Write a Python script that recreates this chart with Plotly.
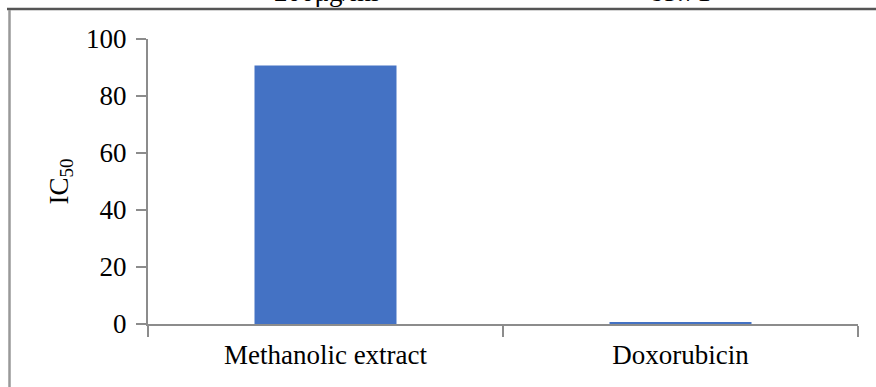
import plotly.graph_objects as go

categories = ["Methanolic extract", "Doxorubicin"]
ic50_values = [90.7, 0.7]
y_ticks = [0, 20, 40, 60, 80, 100]
header_texts = ["200μg/ml", "85.71"]

W, H = 876, 387
L, R, T, B = 148, 18, 39, 63
pw, ph = W - L - R, H - T - B

def px_x(x):
    return (x - L) / pw

def px_y(y):
    return (H - B - y) / ph

FONT = "Liberation Serif, Times New Roman, serif"
AX = "#8c8c8c"
FS = 27

fig = go.Figure()
fig.add_trace(go.Bar(x=categories, y=ic50_values, marker=dict(color="#4472C4", line=dict(width=0)),
                     width=0.4))

fig.update_layout(
    width=W, height=H,
    margin=dict(l=L, r=R, t=T, b=B, autoexpand=False),
    paper_bgcolor="white", plot_bgcolor="white",
    font=dict(family=FONT, size=FS, color="black"),
    showlegend=False,
    xaxis=dict(
        showline=True, linecolor=AX, linewidth=2,
        ticks="outside", tickson="boundaries", ticklen=11, tickcolor=AX, tickwidth=2,
        showgrid=False, tickfont=dict(size=FS, family=FONT), automargin=False,
        ticklabelstandoff=6,
    ),
    yaxis=dict(
        range=[0, 100], tickvals=y_ticks,
        showline=True, linecolor=AX, linewidth=2,
        ticks="outside", ticklen=10, tickcolor=AX, tickwidth=2,
        showgrid=False, zeroline=False, tickfont=dict(size=FS, family=FONT),
        ticklabelstandoff=4, automargin=False,
        title=dict(text="IC<sub>50</sub>", font=dict(size=FS, family=FONT), standoff=10),
    ),
)

# frame lines of the surrounding table
fig.add_shape(type="line", xref="paper", yref="paper",
              x0=px_x(7), x1=px_x(876), y0=px_y(9), y1=px_y(9),
              line=dict(color="#555555", width=2.5))
fig.add_shape(type="line", xref="paper", yref="paper",
              x0=px_x(9.5), x1=px_x(9.5), y0=px_y(10), y1=px_y(387),
              line=dict(color="#999999", width=2.5))

for txt, cx in zip(header_texts, [326, 680]):
    fig.add_annotation(text=txt, xref="paper", yref="paper", x=px_x(cx), y=px_y(9),
                       xanchor="center", yanchor="bottom", showarrow=False,
                       font=dict(size=FS, family=FONT, color="black"))

fig.write_html("out.html", config={"displayModeBar": False},
               post_script="document.body.style.margin='0';document.body.style.overflow='hidden';")
